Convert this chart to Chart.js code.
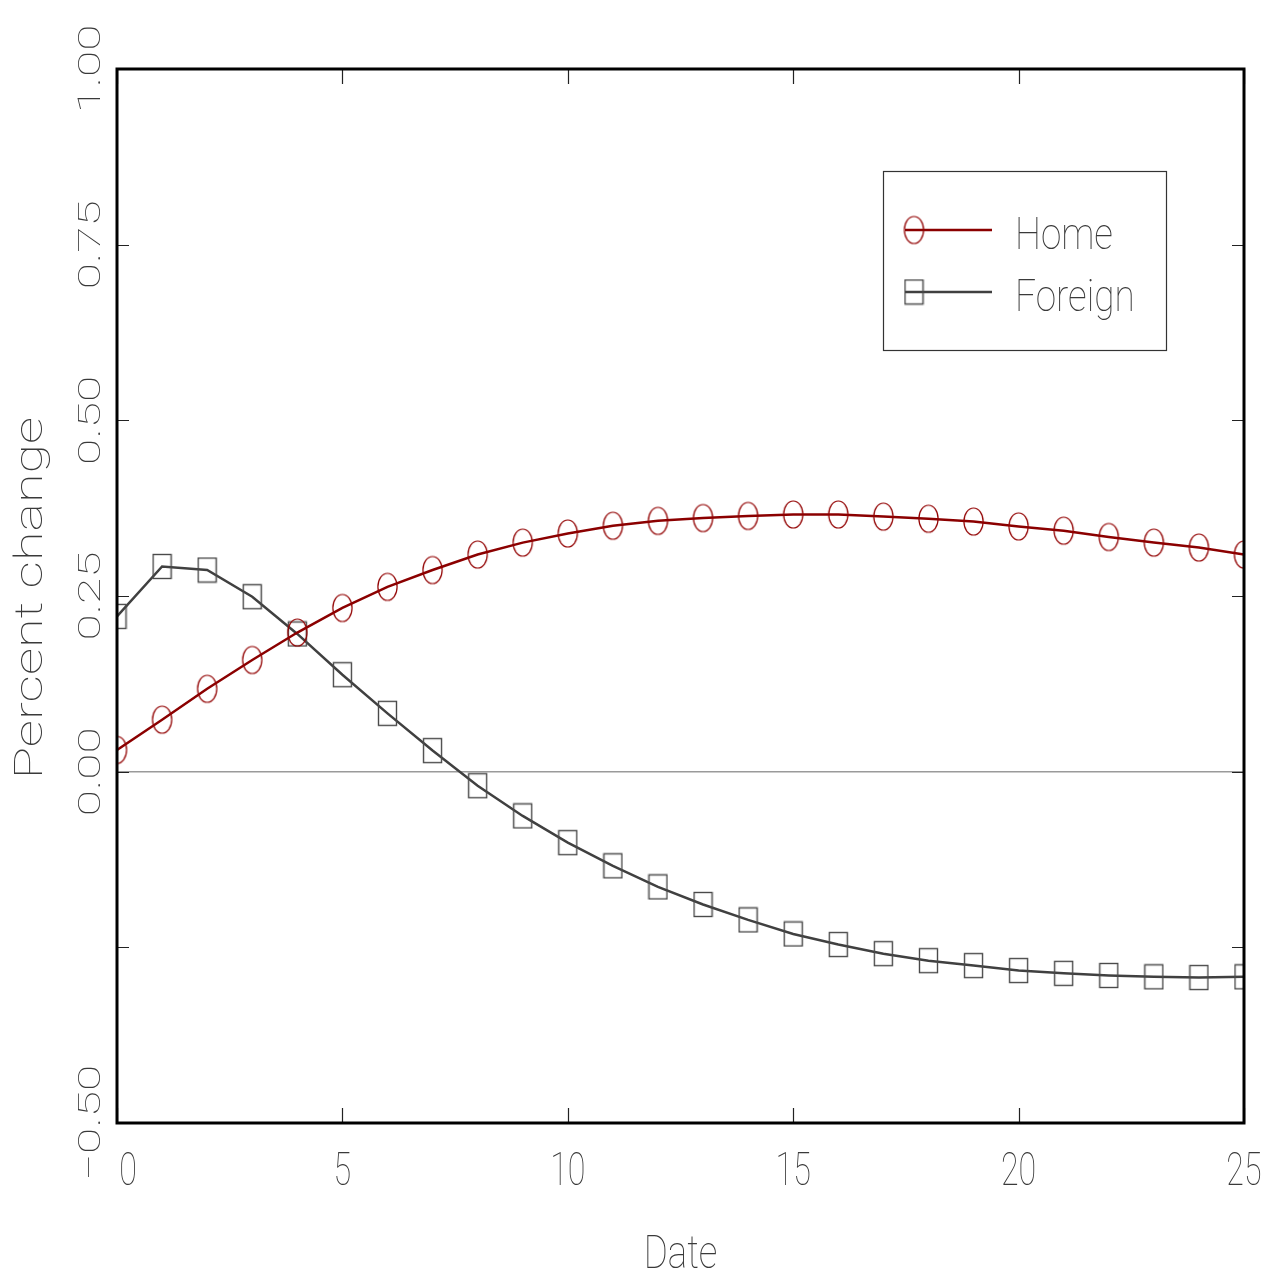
<!DOCTYPE html>
<html>
<head>
<meta charset="utf-8">
<script src="https://cdn.jsdelivr.net/npm/chart.js@4.4.1/dist/chart.umd.min.js"></script>
<style>
  body { margin: 0; background: #fff; }
  #wrap { width: 1274px; height: 1278px; }
</style>
</head>
<body>
<div id="wrap"><canvas id="chart"></canvas></div>
<script>
const dates = [0, 1, 2, 3, 4, 5, 6, 7, 8, 9, 10, 11, 12, 13, 14, 15, 16, 17, 18, 19, 20, 21, 22, 23, 24, 25];
const home = [0.031, 0.074, 0.118, 0.159, 0.198, 0.233, 0.263, 0.287, 0.309, 0.326, 0.339, 0.350, 0.357,
    0.361, 0.364, 0.366, 0.366, 0.363, 0.360, 0.356, 0.349, 0.343, 0.334, 0.326, 0.319, 0.309];
const foreign = [0.221, 0.292, 0.287, 0.249, 0.196, 0.138, 0.083, 0.030, -0.020, -0.063, -0.101, -0.134, -0.164,
    -0.189, -0.211, -0.231, -0.246, -0.259, -0.269, -0.276, -0.283, -0.287, -0.290, -0.292, -0.293, -0.292];
const xTicks = [0, 5, 10, 15, 20, 25];
const yTicks = [-0.5, -0.25, 0, 0.25, 0.5, 0.75, 1.0];
const yTickLabels = ['\u22120.50', '', '0.00', '0.25', '0.50', '0.75', '1.00'];

const FONT = 'Roboto, "Open Sans", sans-serif';
const TEXT = '#3a3a3a';

// hollow marker images
function ellipseMark() {
    const c = document.createElement('canvas');
    c.width = 23; c.height = 31;
    const g = c.getContext('2d');
    g.strokeStyle = '#920000';
    g.lineWidth = 1.2;
    g.beginPath();
    g.ellipse(11.5, 15.5, 9.6, 13.5, 0, 0, Math.PI * 2);
    g.stroke();
    return c;
}
function squareMark() {
    const c = document.createElement('canvas');
    c.width = 21; c.height = 27;
    const g = c.getContext('2d');
    g.strokeStyle = '#4a4a4a';
    g.lineWidth = 1.4;
    g.strokeRect(1.5, 1.5, 18, 24);
    return c;
}
const circ = ellipseMark();
const sq = squareMark();

function text(ctx, str, x, y, size, sx, rot, align) {
    ctx.save();
    ctx.translate(x, y);
    if (rot) ctx.rotate(rot);
    ctx.scale(sx, 1);
    ctx.font = '100 ' + size + 'px ' + FONT;
    ctx.fillStyle = TEXT;
    ctx.textAlign = align || 'center';
    ctx.textBaseline = 'alphabetic';
    ctx.fillText(str, 0, 0);
    ctx.restore();
}

const frame = {
    id: 'frame',
    beforeDatasetsDraw(chart) {
        const ctx = chart.ctx, a = chart.chartArea, y = chart.scales.y;
        ctx.save();
        ctx.strokeStyle = '#9a9a9a';
        ctx.lineWidth = 1.5;
        ctx.beginPath();
        ctx.moveTo(a.left, y.getPixelForValue(0));
        ctx.lineTo(a.right, y.getPixelForValue(0));
        ctx.stroke();
        ctx.restore();
    },
    afterDatasetsDraw(chart) {
        const ctx = chart.ctx, a = chart.chartArea;
        const xs = chart.scales.x, ys = chart.scales.y;
        ctx.save();
        // inward ticks
        ctx.strokeStyle = '#222';
        ctx.lineWidth = 1.2;
        ctx.beginPath();
        xTicks.forEach(v => {
            const px = Math.round(xs.getPixelForValue(v)) + 0.5;
            ctx.moveTo(px, a.bottom); ctx.lineTo(px, a.bottom - 15);
            ctx.moveTo(px, a.top); ctx.lineTo(px, a.top + 15);
        });
        yTicks.forEach(v => {
            const py = Math.round(ys.getPixelForValue(v)) + 0.5;
            ctx.moveTo(a.left, py); ctx.lineTo(a.left + 12, py);
            ctx.moveTo(a.right, py); ctx.lineTo(a.right - 12, py);
        });
        ctx.stroke();
        // box
        ctx.strokeStyle = '#000';
        ctx.lineWidth = 3;
        ctx.strokeRect(a.left, a.top, a.right - a.left, a.bottom - a.top);
        ctx.restore();

        // tick labels
        xTicks.forEach(v => {
            const px = xs.getPixelForValue(v) + (v === 0 ? 11 : 0);
            text(ctx, String(v), px, a.bottom + 62, 46, 0.7);
        });
        yTicks.forEach((v, i) => {
            text(ctx, yTickLabels[i], a.left - 17, ys.getPixelForValue(v), 32, 1.5, -Math.PI / 2);
        });
        // axis titles
        text(ctx, 'Date', (a.left + a.right) / 2, a.bottom + 145, 46, 0.8);
        text(ctx, 'Percent change', 42, (a.top + a.bottom) / 2 + 2, 38, 1.42, -Math.PI / 2);

        // legend
        ctx.save();
        ctx.strokeStyle = '#333';
        ctx.lineWidth = 1.2;
        ctx.strokeRect(883.5, 171.5, 283, 179);
        const rows = [
            {label: 'Home', color: '#8b0000', img: circ, y: 230},
            {label: 'Foreign', color: '#404040', img: sq, y: 292}
        ];
        rows.forEach(r => {
            ctx.strokeStyle = r.color;
            ctx.lineWidth = 2.5;
            ctx.beginPath();
            ctx.moveTo(905, r.y); ctx.lineTo(992, r.y);
            ctx.stroke();
            ctx.drawImage(r.img, 914 - r.img.width / 2, r.y - r.img.height / 2);
            text(ctx, r.label, 1015, r.y + 19, 45, 0.82, 0, 'left');
        });
        ctx.restore();
    }
};

new Chart(document.getElementById('chart'), {
    type: 'line',
    data: {
        datasets: [
            {
                label: 'Home',
                data: dates.map((d, i) => ({x: d, y: home[i]})),
                borderColor: '#8b0000',
                borderWidth: 2.5,
                pointStyle: circ,
                clip: 0
            },
            {
                label: 'Foreign',
                data: dates.map((d, i) => ({x: d, y: foreign[i]})),
                borderColor: '#404040',
                borderWidth: 2.5,
                pointStyle: sq,
                clip: 0
            }
        ]
    },
    options: {
        responsive: true,
        maintainAspectRatio: false,
        animation: false,
        layout: {padding: {left: 117, right: 30, top: 69, bottom: 155}},
        scales: {
            x: {type: 'linear', min: 0, max: 25, display: false},
            y: {min: -0.5, max: 1.0, display: false}
        },
        plugins: {
            legend: {display: false},
            tooltip: {enabled: false}
        }
    },
    plugins: [frame]
});
</script>
</body>
</html>
